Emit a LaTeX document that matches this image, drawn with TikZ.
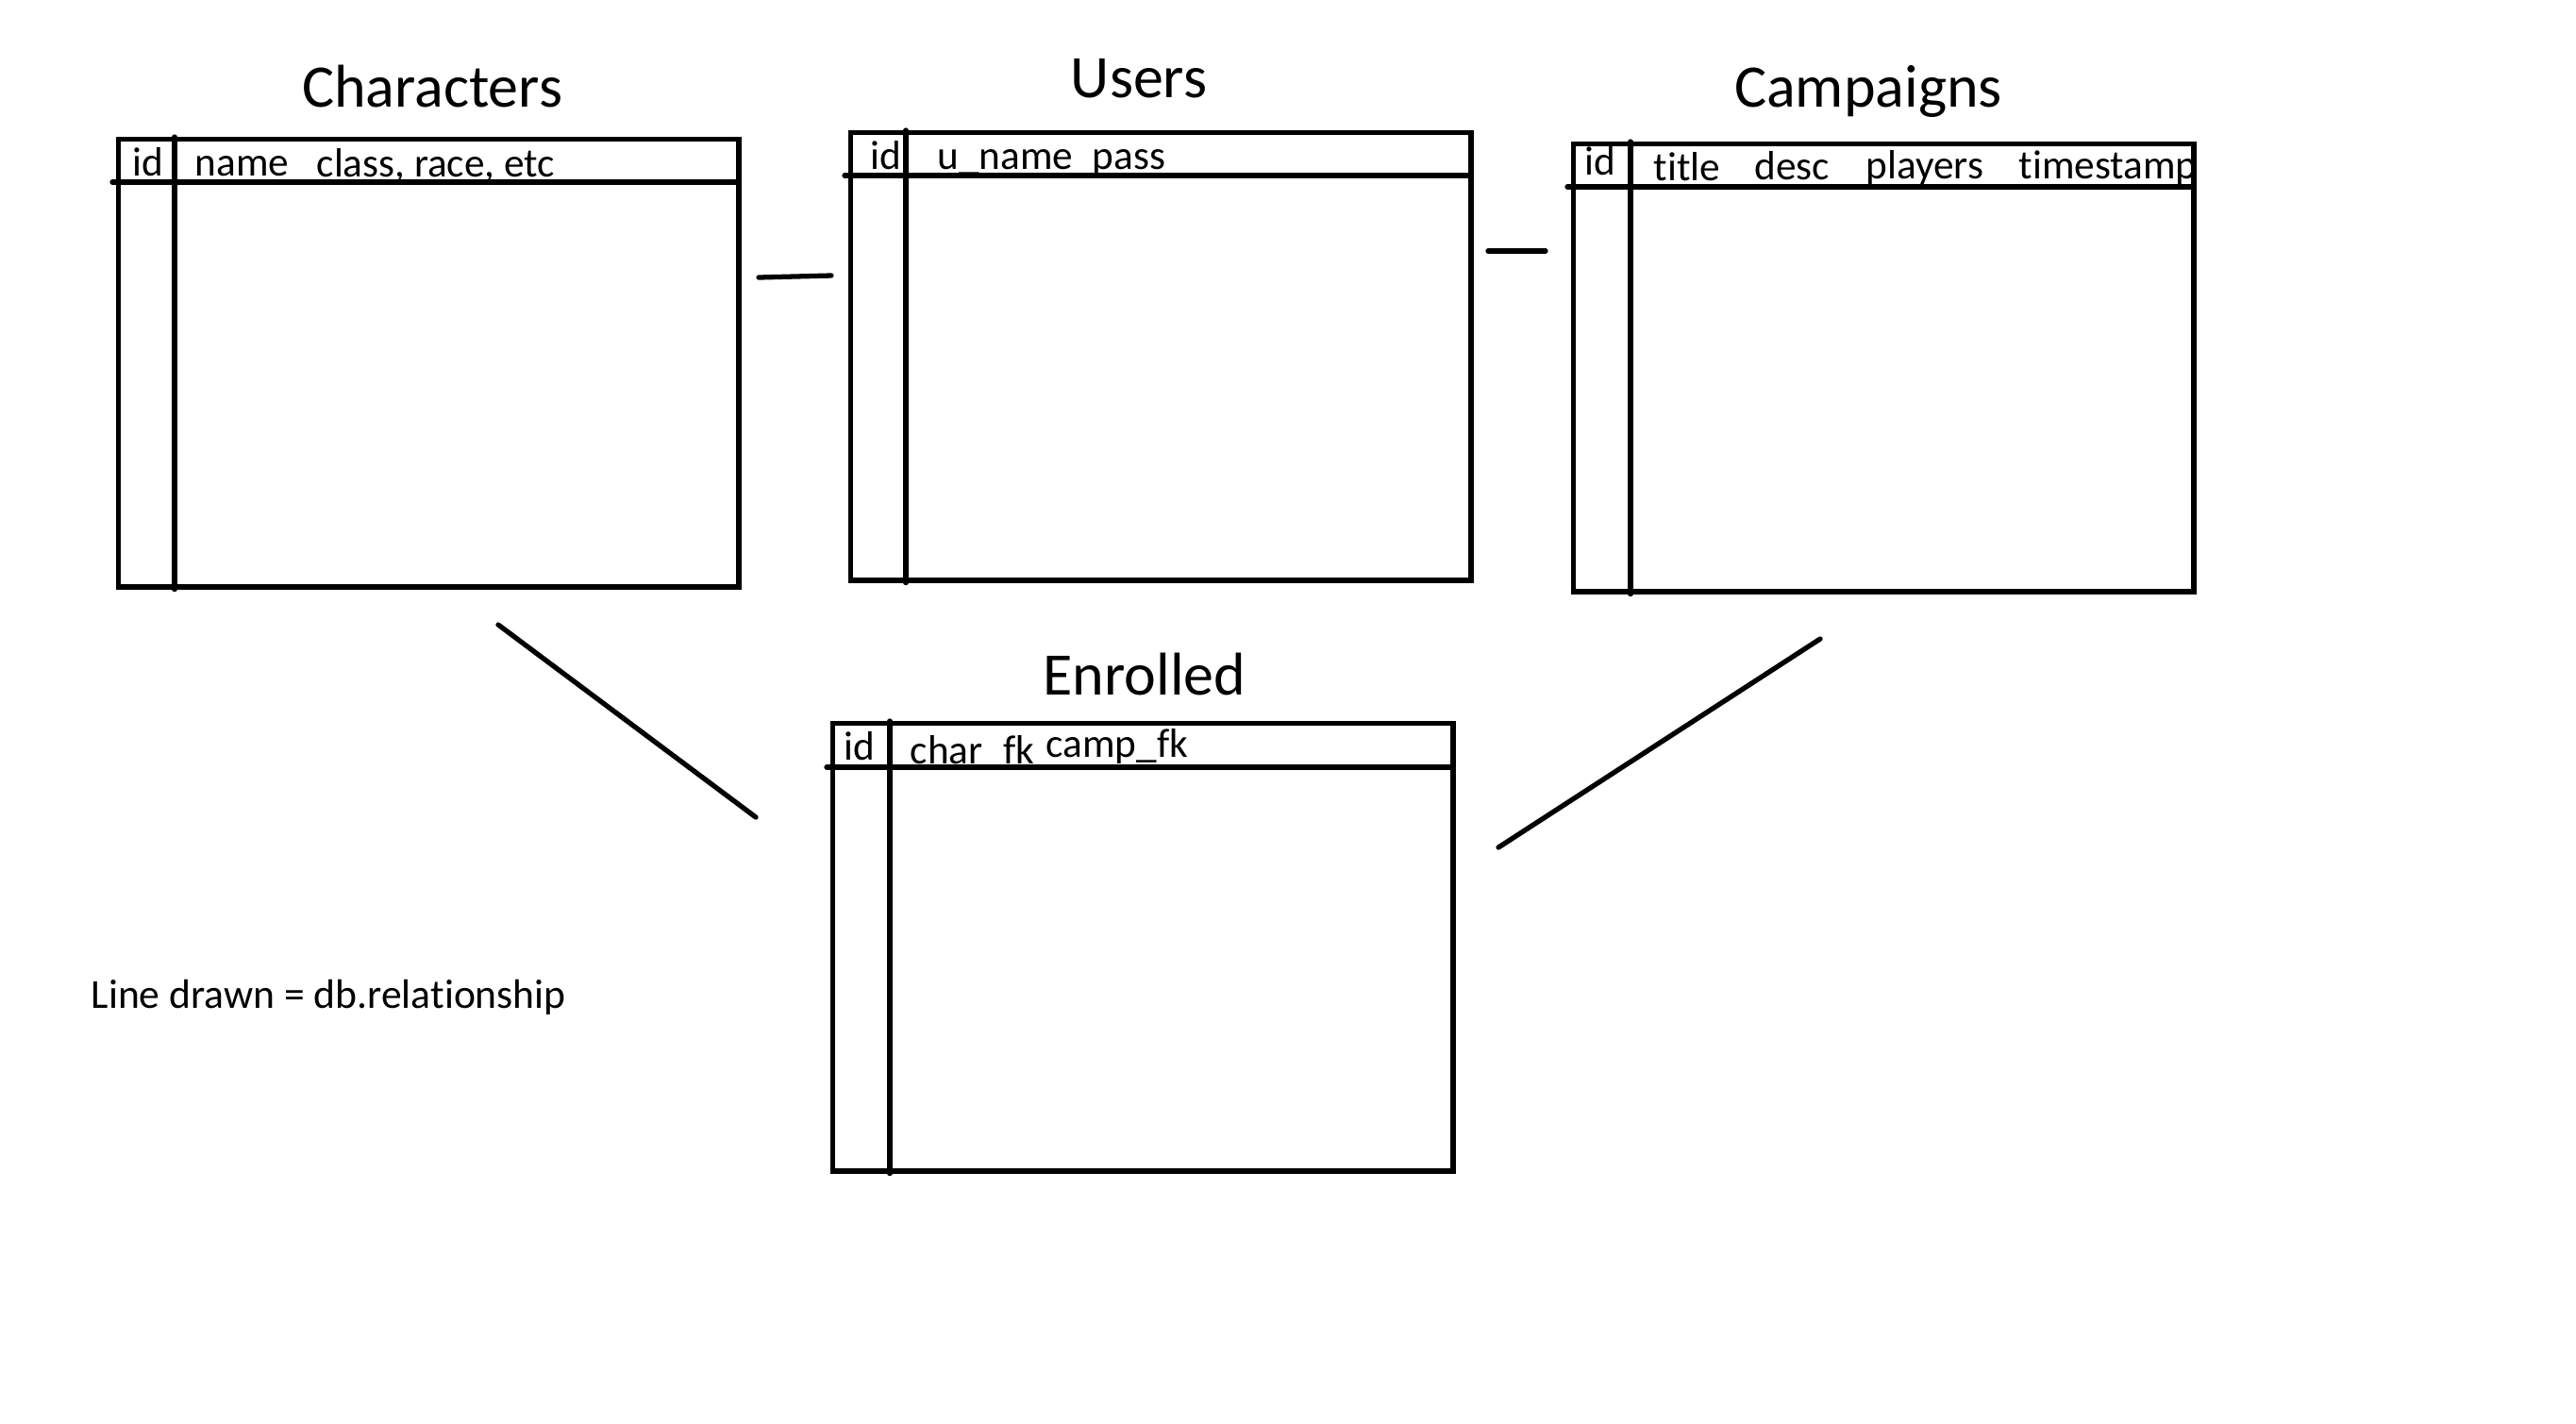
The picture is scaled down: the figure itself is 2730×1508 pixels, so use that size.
\documentclass[tikz,border=0pt]{standalone}
\usepackage{fontspec}
\setmainfont{Carlito}[Ligatures=NoCommon]
\usepackage{tikz}
\usetikzlibrary{positioning,calc}
\tikzset{
  tablebox/.style={rectangle,draw,line width=1.5pt,minimum width=6.57cm,minimum height=4.74cm,inner sep=0pt,anchor=north west},
  rule/.style={line width=1.5pt,line cap=round},
  relline/.style={line width=1.5pt,line cap=round},
  titletext/.style={anchor=base,inner sep=0pt,font=\fontsize{18.2}{22}\selectfont},
  coltext/.style={anchor=base west,inner sep=0pt,font=\fontsize{12.3}{15}\selectfont},
  notetext/.style={anchor=base west,inner sep=0pt,font=\fontsize{12.4}{15}\selectfont}
}
\begin{document}
\begin{tikzpicture}[x=0.01cm,y=-0.01cm]
  \useasboundingbox (0,0) rectangle (2730,1508);
  % tables
  \node[tablebox] (chars) at (123,145) {};
  \node[tablebox] (users) at (899,138) {};
  \node[tablebox] (camps) at (1665,150) {};
  \node[tablebox] (enr) at (880,764) {};
  \foreach \t/\hy/\bx in {chars/48/62, users/48/61, camps/48/63, enr/49/63}{
    \draw[rule] ($(\t.north west)+(-4,\hy)$) -- ($(\t.north east)+(-4,\hy)$);
    \draw[rule] ($(\t.north west)+(\bx,0)$) -- ($(\t.south west)+(\bx,0)$);
  }
  % titles
  \node[titletext] (charstitle) at (458,113) {Characters};
  \node[titletext] (userstitle) at (1207,103) {Users};
  \node[titletext] (campstitle) at (1980,113) {Campaigns};
  \node[titletext] (enrtitle) at (1213,736) {Enrolled};
  % columns
  \node[coltext] (chars-id) at (140,186) {id};
  \node[coltext] (chars-name) at (206,186) {name};
  \node[coltext] (chars-rest) at (335,187) {class, race, etc};
  \node[coltext] (users-id) at (922,179) {id};
  \node[coltext] (users-uname) at (993,179) {u\_name};
  \node[coltext] (users-pass) at (1157,179) {pass};
  \node[coltext] (camps-id) at (1679,185) {id};
  \node[coltext] (camps-title) at (1752,191) {title};
  \node[coltext] (camps-desc) at (1859,190) {desc};
  \node[coltext] (camps-players) at (1977,189) {players};
  \node[coltext] (camps-time) at (2139,189) {timestamp};
  \node[coltext] (enr-id) at (894,805) {id};
  \node[coltext] (enr-char) at (964,809) {char\_fk};
  \node[coltext] (enr-camp) at (1108,802) {camp\_fk};
  % relationships
  \coordinate (cu-a) at (804,294);
  \coordinate (cu-b) at (881,292);
  \coordinate (uc-a) at (1577,266);
  \coordinate (uc-b) at (1638,266);
  \coordinate (ce-a) at (528,662);
  \coordinate (ce-b) at (801,866);
  \coordinate (pe-a) at (1929,677);
  \coordinate (pe-b) at (1588,898);
  \draw[relline] (cu-a) -- (cu-b);
  \draw[relline] (uc-a) -- (uc-b);
  \draw[relline] (ce-a) -- (ce-b);
  \draw[relline] (pe-a) -- (pe-b);
  \node[notetext] (legend) at (96,1068) {Line drawn = db.relationship};
\end{tikzpicture}
\end{document}
